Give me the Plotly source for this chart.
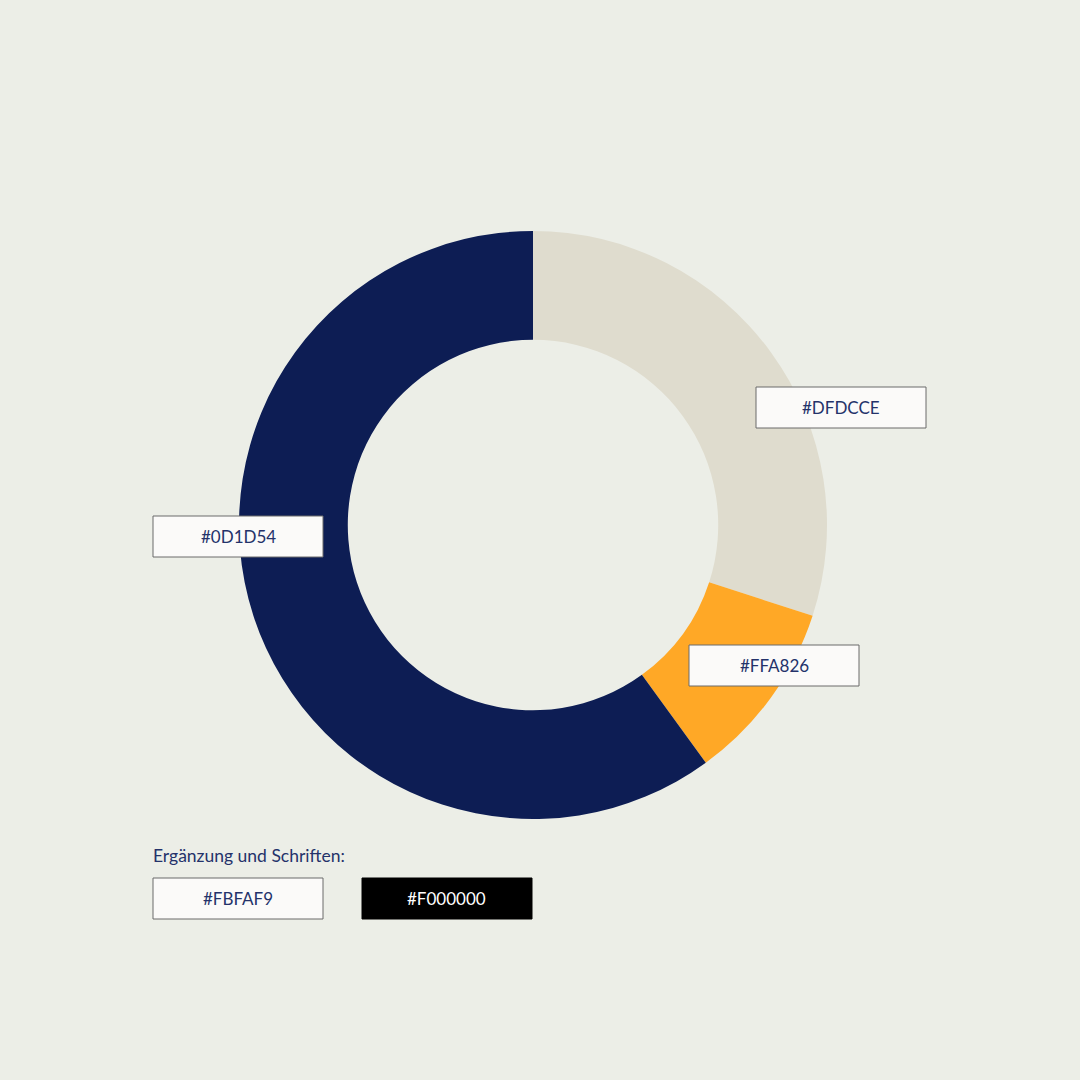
import plotly.graph_objects as go

labels = ["#DFDCCE", "#FFA826", "#0D1D54"]
values = [30, 10, 60]
colors = ["#DFDCCE", "#FFA826", "#0D1D54"]
# label box centers in pixels (x, y)
box_centers = [(841, 407.5), (774, 665.5), (238, 536.5)]
extra_labels = ["#FBFAF9", "#F000000"]
extra_fill = ["#FBFAF9", "#000000"]
extra_text = ["#24326A", "#FFFFFF"]
extra_centers = [(238, 898.5), (447, 898.5)]
subtitle = "Ergänzung und Schriften:"

W = H = 1080
BG = "#ECEEE7"
FONT = "Lato"
TXT = "#24326A"

fig = go.Figure()
fig.add_trace(go.Pie(
    labels=labels, values=values, hole=0.63, sort=False, direction="clockwise",
    rotation=0, textinfo="none", hoverinfo="label",
    marker=dict(colors=colors, line=dict(width=0)),
    domain=dict(x=[239 / W, 827 / W], y=[1 - 819 / H, 1 - 231 / H]),
    showlegend=False,
))

def px(x):
    return x / W

def py(y):
    return 1 - y / H

bw, bh = 170, 41
shapes = []
annotations = []
for lab, (cx, cy) in zip(labels, box_centers):
    shapes.append(dict(type="rect", xref="paper", yref="paper",
                       x0=px(cx - bw / 2), x1=px(cx + bw / 2),
                       y0=py(cy + bh / 2), y1=py(cy - bh / 2),
                       fillcolor="#FBFAF9", line=dict(color="#6b6b6b", width=1)))
    annotations.append(dict(x=px(cx), y=py(cy), xref="paper", yref="paper",
                            xanchor="center", yanchor="middle",
                            text=lab, showarrow=False,
                            font=dict(family=FONT, size=17, color=TXT)))

for lab, fill, tc, (cx, cy) in zip(extra_labels, extra_fill, extra_text, extra_centers):
    shapes.append(dict(type="rect", xref="paper", yref="paper",
                       x0=px(cx - bw / 2), x1=px(cx + bw / 2),
                       y0=py(cy + bh / 2), y1=py(cy - bh / 2),
                       fillcolor=fill, line=dict(color="#6b6b6b" if fill != "#000000" else "#000000", width=1)))
    annotations.append(dict(x=px(cx), y=py(cy), xref="paper", yref="paper",
                            xanchor="center", yanchor="middle",
                            text=lab, showarrow=False,
                            font=dict(family=FONT, size=17, color=tc)))

annotations.append(dict(x=px(153), y=py(855), xref="paper", yref="paper",
                        xanchor="left", yanchor="middle", text=subtitle, showarrow=False,
                        borderpad=0, xshift=-1,
                        font=dict(family=FONT, size=17.5, color=TXT)))

fig.update_layout(
    width=W, height=H, margin=dict(l=0, r=0, t=0, b=0),
    paper_bgcolor=BG, plot_bgcolor=BG,
    shapes=shapes, annotations=annotations,
)
fig.write_html("out.html", config={"displayModeBar": False},
               post_script="document.body.style.margin='0';document.body.style.overflow='hidden';")
